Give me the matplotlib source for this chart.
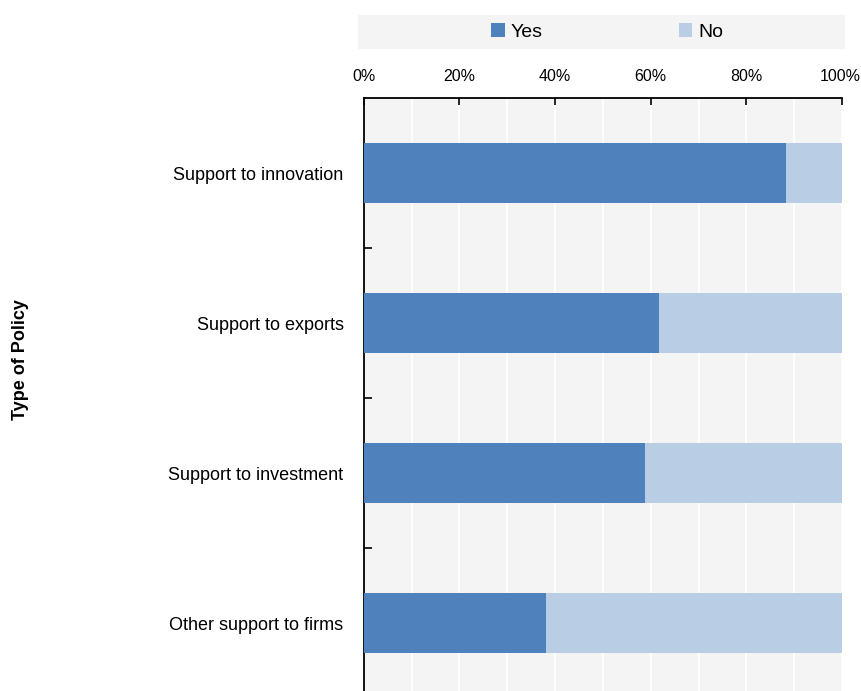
import matplotlib
matplotlib.use("Agg")
import matplotlib.pyplot as plt
from matplotlib.patches import Rectangle, Patch
from matplotlib.ticker import FixedLocator, PercentFormatter
from matplotlib.transforms import ScaledTranslation

plt.rcParams['font.family'] = ['Liberation Sans Narrow', 'Liberation Sans', 'DejaVu Sans']

categories = ["Support to innovation", "Support to exports",
              "Support to investment", "Other support to firms"]
yes_share = [88.2, 61.8, 58.8, 38.2]
no_share = [100 - v for v in yes_share]
x_ticks = [0, 20, 40, 60, 80, 100]
series_names = ["Yes", "No"]

yes_color = "#4f81bd"
no_color = "#b9cde5"
panel_bg = "#f4f4f4"

W, H = 861, 691
fig = plt.figure(figsize=(W / 100, H / 100), dpi=100)

left, right, top, bottom = 363.7, 842.0, 98.0, 698.0
ax = fig.add_axes([left / W, 1 - bottom / H, (right - left) / W, (bottom - top) / H])
ax.set_facecolor(panel_bg)

pos = list(range(len(categories)))
ax.barh(pos, yes_share, height=0.4, color=yes_color, zorder=3)
ax.barh(pos, no_share, left=yes_share, height=0.4, color=no_color, zorder=3)

ax.set_xlim(0, 100)
ax.set_ylim(len(categories) - 0.5, -0.5)

# x axis on top, percentages
ax.xaxis.tick_top()
ax.xaxis.set_major_locator(FixedLocator(x_ticks))
ax.xaxis.set_major_formatter(PercentFormatter(decimals=0))
ax.xaxis.set_minor_locator(FixedLocator(range(0, 101, 10)))
ax.tick_params(axis='x', which='major', direction='in', length=5, width=1.2,
               labelsize=11.5, pad=10, color='black')
ax.tick_params(axis='x', which='minor', length=0)
ax.grid(axis='x', which='both', color='white', linewidth=1.3, zorder=1)

# keep the last percentage label inside the canvas
fig.canvas.draw()
last = ax.get_xticklabels()[-1]
last.set_transform(last.get_transform() + ScaledTranslation(-2 / 100, 0, fig.dpi_scale_trans))

# category labels at bar centres, tick marks at category boundaries
ax.set_yticks(pos)
ax.set_yticklabels(categories)
ax.yaxis.set_minor_locator(FixedLocator([0.5, 1.5, 2.5]))
ax.tick_params(axis='y', which='major', length=0, labelsize=13, pad=14.5)
ax.tick_params(axis='y', which='minor', direction='in', length=6, width=1.2, color='black')

for side in ['right', 'bottom']:
    ax.spines[side].set_visible(False)
ax.spines['left'].set_linewidth(1.3)
ax.spines['top'].set_linewidth(1.3)
ax.set_axisbelow(True)

fig.text(21 / W, 1 - 360 / H, "Type of Policy", rotation=90, ha='center',
         va='center', fontsize=13, fontweight='bold')

# legend strip
lx0, lx1, ly0, ly1 = 358, 845, 15, 49
fig.patches.append(Rectangle((lx0 / W, 1 - ly1 / H), (lx1 - lx0) / W, (ly1 - ly0) / H,
                             transform=fig.transFigure, facecolor=panel_bg,
                             edgecolor='none', zorder=0))
handles = [Patch(facecolor=yes_color, edgecolor='none', label=series_names[0]),
           Patch(facecolor=no_color, edgecolor='none', label=series_names[1])]
fig.legend(handles=handles, loc='center', bbox_to_anchor=(607 / W, 1 - 32 / H),
           ncol=2, frameon=False, fontsize=14, handlelength=0.7, handleheight=0.7,
           handletextpad=0.3, columnspacing=7.0)

fig.savefig("out.png", dpi=100)
